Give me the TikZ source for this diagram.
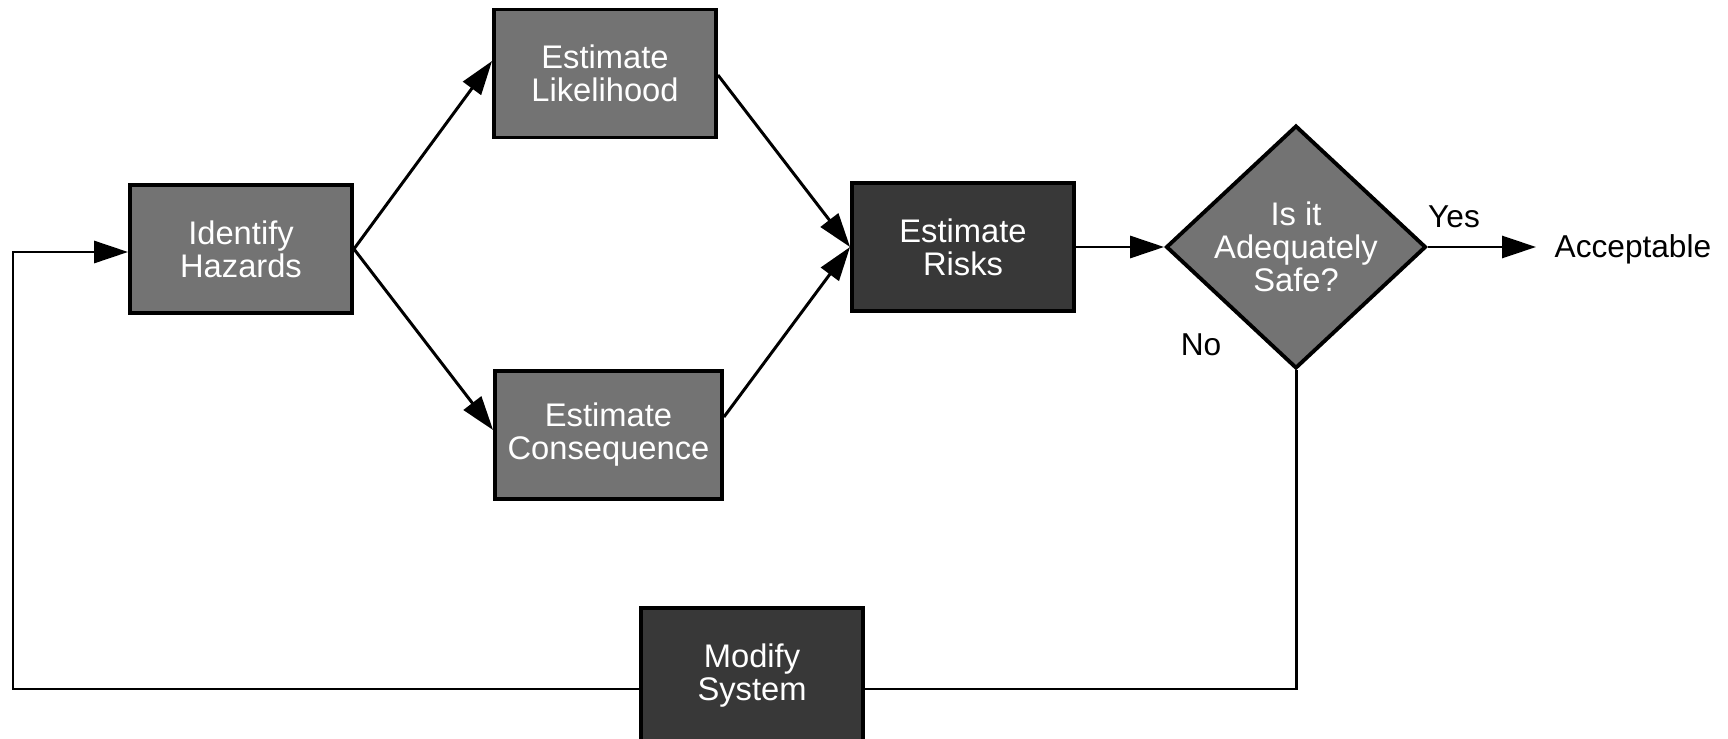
\documentclass[tikz,border=0pt]{standalone}
\usepackage{fontspec}
\setmainfont{Liberation Sans}
\usetikzlibrary{shapes.geometric,arrows.meta}
\begin{document}
\begin{tikzpicture}[x=1cm,y=1cm,
    every node/.style={font=\fontsize{9}{9.4}\selectfont, align=center},
    box/.style={rectangle, draw=black, line width=1.1pt, fill=black!55, text=white,
        font=\fontsize{9.3}{9.4}\selectfont,
        minimum width=2.22cm, minimum height=1.28cm, inner sep=0pt},
    darkbox/.style={box, fill=black!78},
    decision/.style={diamond, draw=black, line width=1.1pt, fill=black!55, text=white,
        font=\fontsize{9.3}{9.4}\selectfont,
        minimum width=2.49cm, minimum height=2.33cm, aspect=1.07, inner sep=0pt},
    arr/.style={-{Triangle[length=3.4mm,width=2.2mm]}, line width=0.85pt},
    line/.style={line width=0.85pt}]
    \useasboundingbox (0,0) rectangle (17.28,-7.39);

    % Nodes
    \node[box] (ident) at (2.41,-2.49) {Identify\\Hazards};
    \node[box] (like) at (6.05,-0.735) {Estimate\\Likelihood};
    \node[box, minimum width=2.27cm] (cons) at (6.085,-4.35) {Estimate\\Consequence};
    \node[darkbox] (risk) at (9.63,-2.47) {Estimate\\Risks};
    \node[decision] (safe) at (12.96,-2.47) {Is it\\Adequately\\Safe?};
    \node[darkbox, minimum height=1.36cm] (mod) at (7.52,-6.76) {Modify\\System};
    \node[anchor=west, inner sep=0pt] (acc) at (15.54,-2.49) {Acceptable};
    \node (yes) at (14.54,-2.17) {Yes};
    \node (no) at (12.01,-3.45) {No};
    \coordinate (back) at (0.13,-2.52);

    % Edges
    \draw[arr] (ident.east) -- (like.west|-0,-0.61);
    \draw[arr] (ident.east) -- (cons.west|-0,-4.30);
    \draw[arr] (like.east|-0,-0.75) -- (risk.west);
    \draw[arr] (cons.east|-0,-4.17) -- (risk.west);
    \draw[arr] (risk.east) -- (safe.west);
    \draw[arr, shorten >=0.18cm] (safe.east) -- (acc.west|-safe.east);

    % Feedback
    \draw[line] (safe.south) |- ([yshift=-0.13cm]mod.east);
    \draw[arr] ([yshift=-0.13cm]mod.west) -| (back) -- (ident.west|-back);
\end{tikzpicture}
\end{document}
